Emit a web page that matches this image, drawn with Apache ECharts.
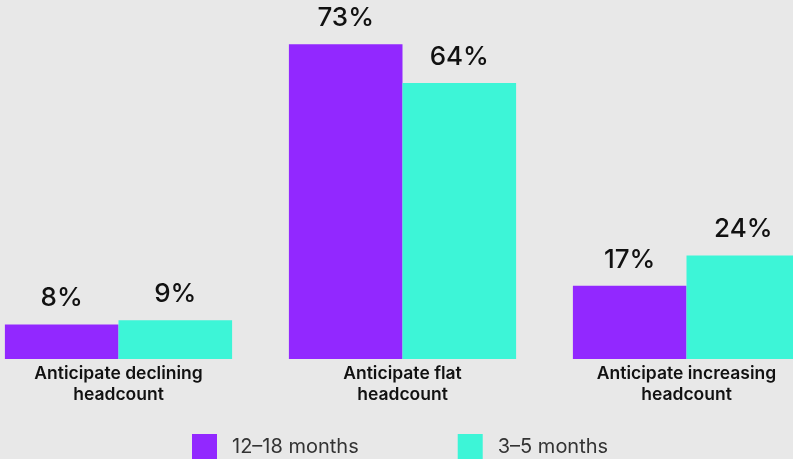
<!DOCTYPE html>
<html>
<head>
<meta charset="utf-8">
<script src="https://cdn.jsdelivr.net/npm/echarts@6/dist/echarts.min.js"></script>
<style>
html,body{margin:0;padding:0;background:#e8e8e8;}
#chart{width:793px;height:459px;}
</style>
</head>
<body>
<div id="chart"></div>
<script>
const categories = ["Anticipate declining\nheadcount", "Anticipate flat\nheadcount", "Anticipate increasing\nheadcount"];
const seriesNames = ["12–18 months", "3–5 months"];
const values1218 = [8, 73, 17];
const values35 = [9, 64, 24];

const chart = echarts.init(document.getElementById('chart'));
const font = 'Inter, "Noto Sans", sans-serif';
const labelStyle = {
  show: true, position: 'top', distance: 13,
  formatter: '{c}%', fontSize: 26, fontWeight: 500, color: '#111', fontFamily: font
};
chart.setOption({
  backgroundColor: '#e8e8e8',
  animation: false,
  legend: {
    left: 192, top: 434, padding: 0,
    itemWidth: 25, itemHeight: 25, itemGap: 99,
    icon: 'rect',
    textStyle: { fontSize: 20, color: '#333', fontFamily: font, padding: [0, 0, 0, 10] },
    data: seriesNames
  },
  grid: { left: -23.5, width: 852, top: 14, bottom: 100, containLabel: false, outerBoundsMode: 'none' },
  xAxis: {
    type: 'category', data: categories,
    axisLine: { show: false }, axisTick: { show: false },
    axisLabel: { fontSize: 17.5, fontWeight: 600, color: '#111', fontFamily: font, lineHeight: 21, margin: 4 }
  },
  yAxis: { type: 'value', min: 0, max: 80, show: false, splitLine: { show: false } },
  series: [
    { name: seriesNames[0], type: 'bar', data: values1218, barGap: '0%', barCategoryGap: '20%',
      itemStyle: { color: '#9228FF' }, label: labelStyle },
    { name: seriesNames[1], type: 'bar', data: values35, barGap: '0%', barCategoryGap: '20%',
      itemStyle: { color: '#3DF5D7' }, label: labelStyle }
  ]
});
</script>
</body>
</html>
